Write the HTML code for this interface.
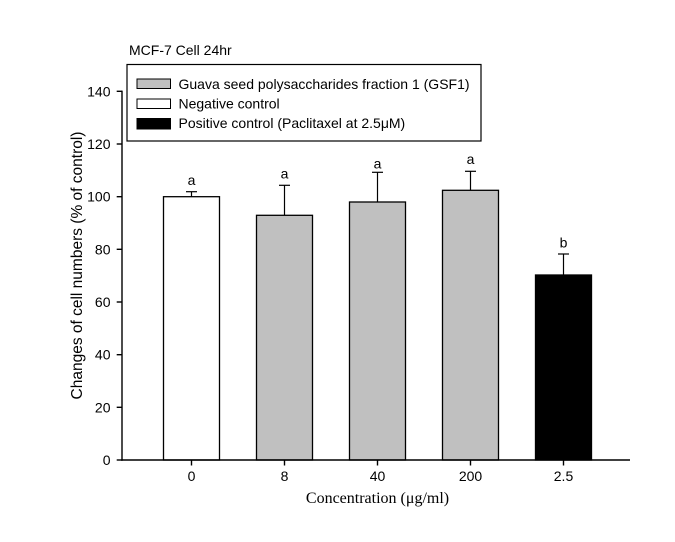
<!DOCTYPE html>
<html><head><meta charset="utf-8"><style>
html,body{margin:0;padding:0;background:#fff;}
svg{display:block;}
text{font-family:"Liberation Sans",Arial,sans-serif;fill:#000;}
</style></head><body>
<svg width="675" height="542" viewBox="0 0 675 542" xmlns="http://www.w3.org/2000/svg">
<rect width="675" height="542" fill="#fff"/>
<!-- title -->
<text x="129" y="55" font-size="14">MCF-7 Cell 24hr</text>
<!-- legend -->
<rect x="127" y="64.5" width="354" height="76.5" fill="#fff" stroke="#000" stroke-width="1.2"/>
<rect x="137" y="79" width="33.5" height="9.5" fill="#c0c0c0" stroke="#000" stroke-width="1"/>
<rect x="137" y="99" width="33.5" height="9.5" fill="#fff" stroke="#000" stroke-width="1"/>
<rect x="137" y="118.5" width="33.5" height="10.5" fill="#000" stroke="#000" stroke-width="1"/>
<text x="178.5" y="89" font-size="14">Guava seed polysaccharides fraction 1 (GSF1)</text>
<text x="178.5" y="108.5" font-size="14">Negative control</text>
<text x="178.5" y="128" font-size="14">Positive control (Paclitaxel at 2.5μM)</text>
<!-- bars -->
<g stroke="#000" stroke-width="1.3">
<rect x="163.5" y="196.7" width="56" height="263.3" fill="#fff"/>
<rect x="256.5" y="215.3" width="56" height="244.7" fill="#c0c0c0"/>
<rect x="349.5" y="202" width="56" height="258" fill="#c0c0c0"/>
<rect x="442.5" y="190.3" width="56" height="269.7" fill="#c0c0c0"/>
<rect x="535.5" y="275" width="56" height="185" fill="#000"/>
</g>
<!-- error bars -->
<g stroke="#000" stroke-width="1.2" fill="none">
<line x1="191.5" y1="196.7" x2="191.5" y2="191.7"/><line x1="186" y1="191.7" x2="197" y2="191.7"/>
<line x1="284.5" y1="215.3" x2="284.5" y2="185.3"/><line x1="279" y1="185.3" x2="290" y2="185.3"/>
<line x1="377.5" y1="202" x2="377.5" y2="172.3"/><line x1="372" y1="172.3" x2="383" y2="172.3"/>
<line x1="470.5" y1="190.3" x2="470.5" y2="171.3"/><line x1="465" y1="171.3" x2="476" y2="171.3"/>
<line x1="563.5" y1="275" x2="563.5" y2="254"/><line x1="558" y1="254" x2="569" y2="254"/>
</g>
<!-- letters -->
<g font-size="14" text-anchor="middle">
<text x="191.5" y="185">a</text>
<text x="284.5" y="178.3">a</text>
<text x="377.5" y="168.3">a</text>
<text x="470.5" y="164">a</text>
<text x="563.5" y="247.3">b</text>
</g>
<!-- axes -->
<g stroke="#000" stroke-width="1.4" fill="none">
<line x1="122" y1="90.6" x2="122" y2="460.7"/>
<line x1="121.3" y1="460" x2="630" y2="460"/>
<line x1="116.7" y1="460" x2="122" y2="460"/>
<line x1="116.7" y1="407.3" x2="122" y2="407.3"/>
<line x1="116.7" y1="354.7" x2="122" y2="354.7"/>
<line x1="116.7" y1="302" x2="122" y2="302"/>
<line x1="116.7" y1="249.3" x2="122" y2="249.3"/>
<line x1="116.7" y1="196.7" x2="122" y2="196.7"/>
<line x1="116.7" y1="144" x2="122" y2="144"/>
<line x1="116.7" y1="91.3" x2="122" y2="91.3"/>
<line x1="191.5" y1="460" x2="191.5" y2="465.5"/>
<line x1="284.5" y1="460" x2="284.5" y2="465.5"/>
<line x1="377.5" y1="460" x2="377.5" y2="465.5"/>
<line x1="470.5" y1="460" x2="470.5" y2="465.5"/>
<line x1="563.5" y1="460" x2="563.5" y2="465.5"/>
</g>
<!-- y tick labels -->
<g font-size="14" text-anchor="end">
<text x="110.5" y="465">0</text>
<text x="110.5" y="412.3">20</text>
<text x="110.5" y="359.7">40</text>
<text x="110.5" y="307">60</text>
<text x="110.5" y="254.3">80</text>
<text x="110.5" y="201.7">100</text>
<text x="110.5" y="149">120</text>
<text x="110.5" y="96.3">140</text>
</g>
<!-- x tick labels -->
<g font-size="14" text-anchor="middle">
<text x="191.5" y="481">0</text>
<text x="284.5" y="481">8</text>
<text x="377.5" y="481">40</text>
<text x="470.5" y="481">200</text>
<text x="563.5" y="481">2.5</text>
</g>
<text x="377.5" y="503" font-size="16" text-anchor="middle" style="font-family:'Liberation Serif','Times New Roman',serif">Concentration (μg/ml)</text>
<text transform="translate(82,265.5) rotate(-90)" font-size="15.5" text-anchor="middle">Changes of cell numbers (% of control)</text>
</svg>
</body></html>
